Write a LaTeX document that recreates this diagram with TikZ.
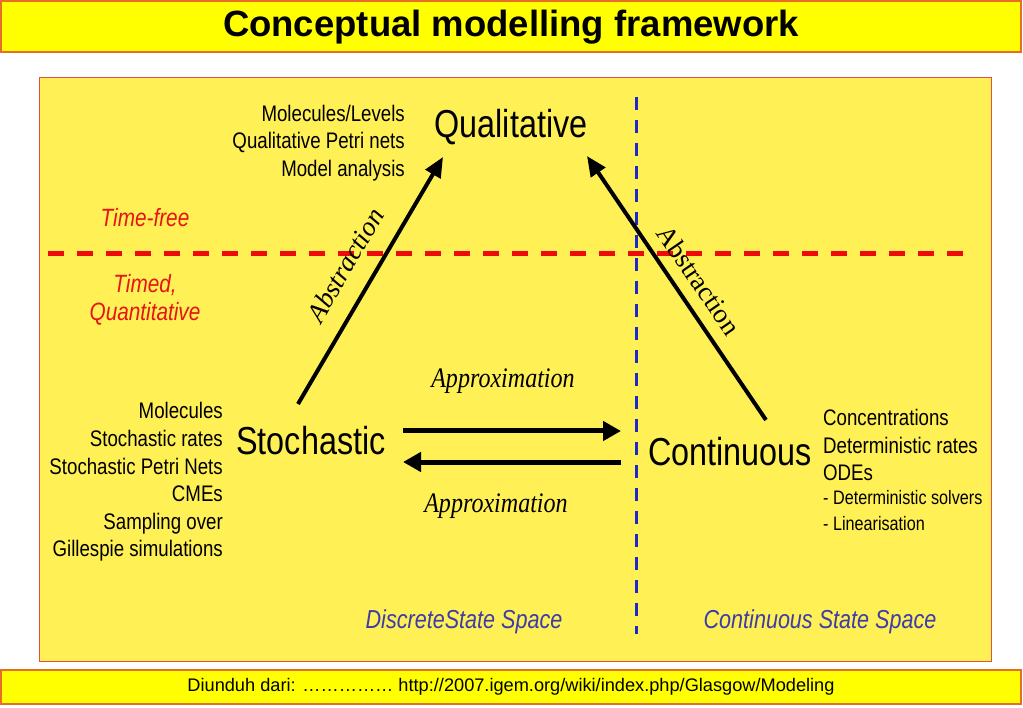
\documentclass[tikz,border=0pt]{standalone}
\usepackage{fontspec}
\setmainfont{Liberation Sans}
\newfontfamily\titlefont{Liberation Sans}
\newfontfamily\cond[FakeStretch=0.83]{Liberation Sans}
\newfontfamily\serifc[FakeStretch=0.85]{Liberation Serif}
\newfontfamily\serifn{Liberation Serif}
\usetikzlibrary{arrows.meta}
\definecolor{bary}{RGB}{255,255,0}
\definecolor{panely}{RGB}{255,240,85}
\definecolor{barborder}{RGB}{230,110,40}
\definecolor{panelborder}{RGB}{225,80,70}
\definecolor{dashred}{RGB}{238,10,10}
\definecolor{dashblue}{RGB}{30,40,200}
\definecolor{spaceblue}{RGB}{60,60,170}
\definecolor{txtred}{RGB}{230,20,20}
\tikzset{
  bar/.style={fill=bary, draw=barborder, line width=1.5pt},
  panel/.style={fill=panely, draw=panelborder, line width=1pt},
  big/.style={font=\cond\fontsize{39}{41}\selectfont, inner sep=0pt},
  listtxt/.style={font=\cond\fontsize{22.5}{27.6}\selectfont, inner sep=0pt},
  smalltxt/.style={font=\cond\fontsize{19.5}{26}\selectfont, inner sep=0pt},
  redtxt/.style={font=\cond\itshape\fontsize{25}{28}\selectfont, text=txtred, inner sep=0pt},
  spacetxt/.style={font=\cond\itshape\fontsize{26}{28}\selectfont, text=spaceblue, inner sep=0pt},
  applbl/.style={font=\serifc\itshape\fontsize{28.3}{30}\selectfont, inner sep=0pt},
  absit/.style={font=\serifn\itshape\fontsize{27}{30}\selectfont, inner sep=0pt},
  absrm/.style={font=\serifn\fontsize{27}{30}\selectfont, inner sep=0pt},
  absarrow/.style={line width=4pt, -{Triangle[length=20pt,width=17pt]}},
  apparrow/.style={line width=5pt, -{Triangle[length=18pt,width=19pt]}},
  reddash/.style={draw=dashred, line width=5pt, dash pattern=on 16pt off 13pt},
  bluedash/.style={draw=dashblue, line width=3pt, dash pattern=on 13pt off 10pt}
}
\begin{document}
\begin{tikzpicture}[x=1pt,y=-1pt]
\useasboundingbox (0,0) rectangle (1023,708);
\fill[white] (0,0) rectangle (1023,708);
% title bar
\draw[bar] (1,1) rectangle (1021,52);
\node[font=\titlefont\bfseries\fontsize{36.5}{40}\selectfont, inner sep=0pt] (title) at (511,27) {Conceptual modelling framework};
% panel
\draw[panel] (39,78) rectangle (991,661);
% footer
\draw[bar] (1,670) rectangle (1021,704);
\node[font=\titlefont\fontsize{18.2}{20}\selectfont, inner sep=0pt] (foot) at (511,687) {Diunduh dari: …………… http://2007.igem.org/wiki/index.php/Glasgow/Modeling};
% dashed separators
\draw[reddash] (48,254) -- (968,254);
\draw[bluedash] (636,97) -- (636,634);
% main nodes
\node[big] (qual) at (511,127) {Qualitative};
\node[listtxt, anchor=east, align=right] (qlist) at (405,143) {Molecules/Levels\\Qualitative Petri nets\\Model analysis};
\node[big] (stoch) at (311,441) {Stochastic};
\node[listtxt, anchor=east, align=right] (slist) at (223,482) {Molecules\\Stochastic rates\\Stochastic Petri Nets\\CMEs\\Sampling over\\Gillespie simulations};
\node[big] (cont) at (730,452) {Continuous};
\node[listtxt, anchor=west, align=left] (clist) at (823,445) {Concentrations\\Deterministic rates\\ODEs};
\node[smalltxt, anchor=west, align=left] (clist2) at (823,511) {- Deterministic solvers\\- Linearisation};
% region labels
\node[redtxt] (tfree) at (145,218) {Time-free};
\node[redtxt, align=center] (timed) at (145,300) {Timed,\\Quantitative};
\node[spacetxt] (dss) at (464,622) {DiscreteState Space};
\node[spacetxt] (css) at (820,622) {Continuous State Space};
% arrow end points
\coordinate (abs1s) at (298,404);
\coordinate (abs1e) at (443,157);
\coordinate (abs2s) at (766,420);
\coordinate (abs2e) at (587,156);
\coordinate (app1s) at (403,431);
\coordinate (app1e) at (621,431);
\coordinate (app2s) at (621,462);
\coordinate (app2e) at (403,462);
% arrows
\draw[absarrow] (abs1s) -- (abs1e);
\draw[absarrow] (abs2s) -- (abs2e);
\draw[apparrow] (app1s) -- (app1e);
\draw[apparrow] (app2s) -- (app2e);
% arrow labels
\node[absit, rotate=59.6] (abs1l) at (345,265) {Abstraction};
\node[absrm, rotate=-55.6] (abs2l) at (699,280) {Abstraction};
\node[applbl] (app1l) at (503,381) {Approximation};
\node[applbl] (app2l) at (496,506) {Approximation};
\end{tikzpicture}
\end{document}
